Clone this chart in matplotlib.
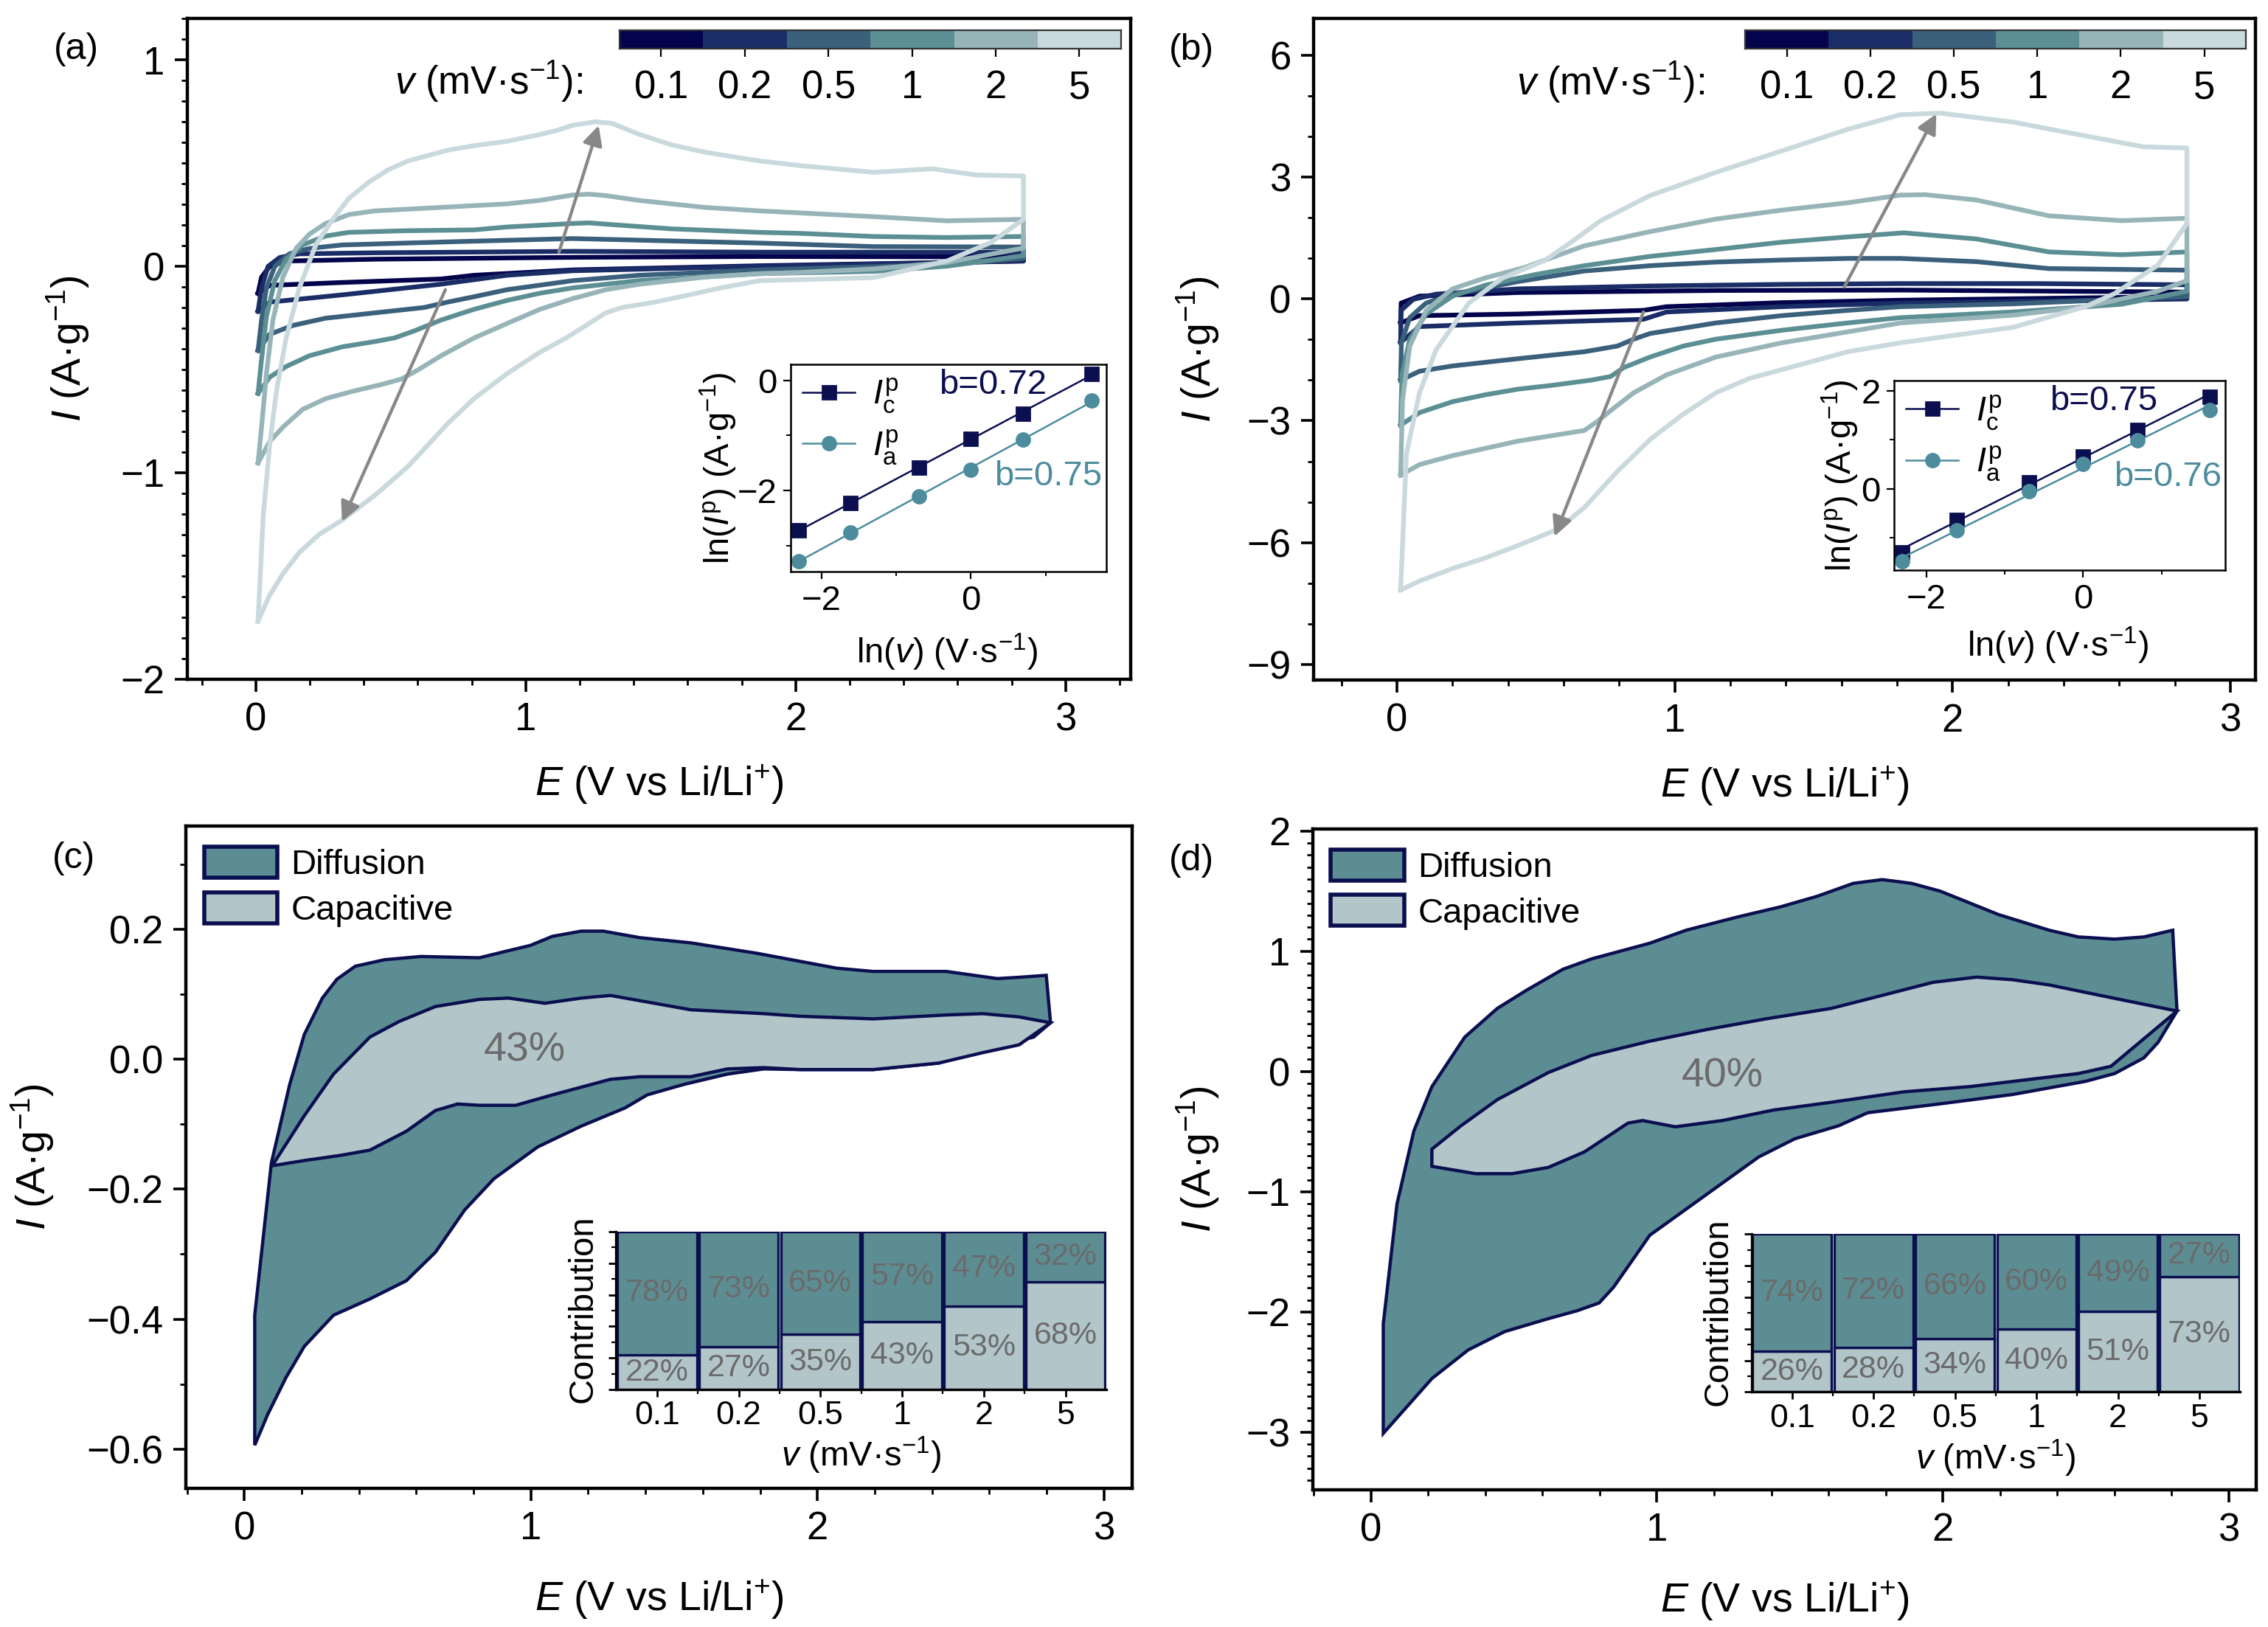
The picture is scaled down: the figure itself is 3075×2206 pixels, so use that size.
import numpy as np
import matplotlib
matplotlib.use('Agg')
import matplotlib.pyplot as plt
from matplotlib.lines import Line2D
from matplotlib.patches import Patch
from matplotlib.colors import ListedColormap
from matplotlib.ticker import MultipleLocator, NullFormatter

plt.rcParams['font.family'] = ['Liberation Sans', 'DejaVu Sans']
plt.rcParams['mathtext.fontset'] = 'custom'
plt.rcParams['mathtext.rm'] = 'Liberation Sans'
plt.rcParams['mathtext.it'] = 'Liberation Sans:italic'
plt.rcParams['mathtext.bf'] = 'Liberation Sans:bold'

# ---------------- data ----------------
rate_labels = ['0.1', '0.2', '0.5', '1', '2', '5']
rates = [0.1, 0.2, 0.5, 1, 2, 5]
rate_colors = ['#04044c', '#1b2d66', '#3b607c', '#5c8f94', '#97b5b9', '#c9d9dd']

# (a) CV curves, upper branch / lower branch, E in V, I in A/g
a01_E_up = [0.008, 0.021, 0.051, 0.112, 0.441, 1.174, 1.867, 2.844]
a01_I_up = [-0.131, -0.053, -0.001, 0.025, 0.034, 0.043, 0.047, 0.045]
a01_E_lo = [0.008, 0.051, 0.319, 0.686, 0.808, 1.174, 1.867, 2.844]
a01_I_lo = [-0.131, -0.093, -0.079, -0.062, -0.044, -0.018, 0.002, 0.025]

a02_E_up = [0.008, 0.021, 0.045, 0.088, 0.161, 0.441, 1.174, 1.867, 2.844]
a02_I_up = [-0.218, -0.105, -0.001, 0.042, 0.060, 0.065, 0.072, 0.068, 0.068]
a02_E_lo = [0.008, 0.051, 0.319, 0.686, 0.930, 1.174, 1.867, 2.844]
a02_I_lo = [-0.218, -0.174, -0.139, -0.087, -0.044, -0.022, -0.001, 0.025]

a05_E_up = [0.008, 0.021, 0.039, 0.070, 0.124, 0.198, 0.319, 0.686, 1.174, 1.867, 2.290, 2.844]
a05_I_up = [-0.408, -0.261, -0.105, -0.001, 0.060, 0.086, 0.103, 0.117, 0.134, 0.112, 0.095, 0.093]
a05_E_lo = [0.008, 0.051, 0.137, 0.258, 0.441, 0.624, 0.710, 0.808, 0.930, 1.174, 1.418, 1.867, 2.560, 2.844]
a05_I_lo = [-0.408, -0.330, -0.287, -0.252, -0.226, -0.200, -0.174, -0.148, -0.114, -0.070, -0.044, -0.018, 0.008, 0.038]

a1_E_up = [0.008, 0.021, 0.039, 0.070, 0.112, 0.173, 0.258, 0.344, 0.563, 0.808, 0.930, 1.174, 1.235, 1.357,
           1.540, 1.867, 2.020, 2.290, 2.560, 2.844]
a1_I_up = [-0.616, -0.451, -0.244, -0.070, 0.034, 0.103, 0.146, 0.164, 0.172, 0.176, 0.190, 0.207, 0.210, 0.198,
           0.181, 0.164, 0.159, 0.144, 0.139, 0.144]
a1_E_lo = [0.008, 0.051, 0.112, 0.198, 0.319, 0.441, 0.515, 0.588, 0.686, 0.808, 0.930, 1.052, 1.174, 1.418,
           1.867, 2.290, 2.560, 2.844]
a1_I_lo = [-0.616, -0.538, -0.486, -0.434, -0.391, -0.365, -0.347, -0.313, -0.261, -0.209, -0.166, -0.131, -0.105,
           -0.070, -0.036, -0.025, 0.0, 0.051]

a2_E_up = [0.008, 0.021, 0.039, 0.063, 0.100, 0.149, 0.198, 0.258, 0.344, 0.441, 0.686, 0.930, 1.052, 1.174,
           1.235, 1.297, 1.418, 1.662, 1.867, 2.020, 2.290, 2.560, 2.844]
a2_I_up = [-0.953, -0.780, -0.521, -0.261, -0.053, 0.086, 0.155, 0.207, 0.250, 0.268, 0.285, 0.302, 0.319, 0.345,
           0.349, 0.342, 0.319, 0.285, 0.268, 0.258, 0.240, 0.220, 0.227]
a2_E_lo = [0.008, 0.051, 0.100, 0.173, 0.258, 0.356, 0.466, 0.539, 0.600, 0.686, 0.808, 0.930, 1.052, 1.174,
           1.296, 1.418, 1.662, 1.867, 2.020, 2.290, 2.560, 2.844]
a2_I_lo = [-0.953, -0.850, -0.780, -0.694, -0.642, -0.607, -0.573, -0.547, -0.503, -0.434, -0.348, -0.278, -0.209,
           -0.157, -0.114, -0.088, -0.053, -0.036, -0.030, -0.013, 0.018, 0.088]

a5_E_up = [0.008, 0.027, 0.051, 0.076, 0.112, 0.161, 0.222, 0.283, 0.344, 0.417, 0.490, 0.563, 0.637, 0.710,
           0.808, 0.930, 1.027, 1.113, 1.174, 1.259, 1.320, 1.418, 1.540, 1.662, 1.784, 1.867, 2.020, 2.290,
           2.506, 2.668, 2.844]
a5_I_up = [-1.72, -1.213, -0.867, -0.607, -0.348, -0.105, 0.103, 0.224, 0.328, 0.406, 0.467, 0.510, 0.536, 0.562,
           0.584, 0.605, 0.631, 0.657, 0.683, 0.700, 0.692, 0.640, 0.588, 0.553, 0.527, 0.510, 0.487, 0.455,
           0.472, 0.442, 0.437]
a5_E_lo = [0.008, 0.051, 0.100, 0.161, 0.234, 0.319, 0.441, 0.563, 0.637, 0.710, 0.808, 0.930, 1.052, 1.149,
           1.234, 1.296, 1.357, 1.479, 1.601, 1.723, 1.867, 2.020, 2.290, 2.560, 2.722, 2.844]
a5_I_lo = [-1.72, -1.594, -1.491, -1.387, -1.300, -1.231, -1.110, -0.971, -0.867, -0.763, -0.642, -0.521, -0.417,
           -0.348, -0.278, -0.226, -0.200, -0.174, -0.140, -0.105, -0.070, -0.065, -0.055, 0.025, 0.114, 0.227]

# (b) CV curves
b01_E_up = [0.013, 0.015, 0.081, 0.437, 1.148, 1.812, 2.843]
b01_I_up = [-0.59, -0.10, 0.07, 0.16, 0.21, 0.22, 0.17]
b01_E_lo = [0.013, 0.081, 0.437, 0.887, 0.970, 1.385, 1.812, 2.843]
b01_I_lo = [-0.59, -0.41, -0.37, -0.28, -0.19, -0.09, -0.03, 0.06]

b02_E_up = [0.013, 0.015, 0.058, 0.141, 0.437, 0.911, 1.385, 1.812, 2.300, 2.843]
b02_I_up = [-1.07, -0.28, -0.01, 0.12, 0.25, 0.32, 0.36, 0.38, 0.38, 0.35]
b02_E_lo = [0.013, 0.081, 0.437, 0.887, 0.970, 1.385, 1.812, 2.843]
b02_I_lo = [-1.07, -0.68, -0.59, -0.50, -0.32, -0.19, -0.10, 0.0]

b05_E_up = [0.013, 0.016, 0.046, 0.105, 0.200, 0.437, 0.674, 0.911, 1.148, 1.385, 1.622, 1.812, 2.085, 2.346, 2.843]
b05_I_up = [-2.00, -1.07, -0.46, -0.10, 0.12, 0.43, 0.69, 0.82, 0.91, 0.96, 1.00, 1.00, 0.92, 0.75, 0.71]
b05_E_lo = [0.013, 0.081, 0.200, 0.437, 0.674, 0.793, 0.852, 0.911, 1.148, 1.385, 1.622, 1.812, 2.216, 2.843]
b05_I_lo = [-2.00, -1.78, -1.65, -1.47, -1.30, -1.16, -0.99, -0.85, -0.59, -0.41, -0.28, -0.19, -0.12, 0.06]

b1_E_up = [0.013, 0.018, 0.046, 0.105, 0.200, 0.318, 0.496, 0.674, 0.911, 1.148, 1.385, 1.622, 1.824, 2.085, 2.346, 2.608, 2.843]
b1_I_up = [-3.11, -1.87, -0.99, -0.37, 0.07, 0.34, 0.60, 0.82, 1.05, 1.22, 1.40, 1.53, 1.63, 1.48, 1.16, 1.09, 1.16]
b1_E_lo = [0.013, 0.081, 0.200, 0.318, 0.437, 0.555, 0.698, 0.769, 0.816, 0.911, 1.030, 1.148, 1.385, 1.622, 1.812, 2.216, 2.608, 2.843]
b1_I_lo = [-3.11, -2.80, -2.53, -2.36, -2.22, -2.13, -2.00, -1.91, -1.69, -1.43, -1.16, -0.99, -0.77, -0.59, -0.46, -0.32, -0.13, 0.19]

b2_E_up = [0.013, 0.020, 0.046, 0.105, 0.200, 0.318, 0.461, 0.674, 0.911, 1.148, 1.385, 1.622, 1.812, 1.902, 2.085, 2.346, 2.608, 2.843]
b2_I_up = [-4.34, -2.49, -1.16, -0.28, 0.25, 0.52, 0.78, 1.31, 1.66, 1.97, 2.19, 2.37, 2.56, 2.57, 2.44, 2.05, 1.93, 1.99]
b2_E_lo = [0.013, 0.081, 0.200, 0.318, 0.437, 0.555, 0.674, 0.721, 0.769, 0.852, 0.970, 1.148, 1.385, 1.622, 1.812, 2.216, 2.477, 2.738, 2.843]
b2_I_lo = [-4.34, -4.08, -3.86, -3.68, -3.50, -3.37, -3.24, -3.02, -2.75, -2.31, -1.87, -1.43, -1.08, -0.81, -0.59, -0.40, -0.19, 0.19, 0.45]

b5_E_up = [0.013, 0.034, 0.081, 0.141, 0.259, 0.378, 0.532, 0.627, 0.733, 0.911, 1.148, 1.385, 1.622, 1.812, 1.955, 2.216, 2.477, 2.686, 2.843]
b5_I_up = [-7.17, -3.81, -2.31, -1.25, -0.10, 0.51, 0.95, 1.40, 1.93, 2.55, 3.12, 3.65, 4.18, 4.54, 4.58, 4.36, 4.02, 3.75, 3.72]
b5_E_lo = [0.013, 0.081, 0.200, 0.318, 0.437, 0.579, 0.674, 0.793, 0.911, 1.030, 1.148, 1.267, 1.385, 1.504, 1.622, 1.812, 2.000, 2.216, 2.477, 2.582, 2.738, 2.843]
b5_I_lo = [-7.17, -6.95, -6.64, -6.38, -6.07, -5.67, -5.14, -4.25, -3.46, -2.84, -2.31, -1.96, -1.74, -1.52, -1.30, -1.08, -0.90, -0.70, -0.19, 0.13, 0.83, 1.86]

a_curves = [(a01_E_up, a01_I_up, a01_E_lo, a01_I_lo), (a02_E_up, a02_I_up, a02_E_lo, a02_I_lo),
            (a05_E_up, a05_I_up, a05_E_lo, a05_I_lo), (a1_E_up, a1_I_up, a1_E_lo, a1_I_lo),
            (a2_E_up, a2_I_up, a2_E_lo, a2_I_lo), (a5_E_up, a5_I_up, a5_E_lo, a5_I_lo)]
b_curves = [(b01_E_up, b01_I_up, b01_E_lo, b01_I_lo), (b02_E_up, b02_I_up, b02_E_lo, b02_I_lo),
            (b05_E_up, b05_I_up, b05_E_lo, b05_I_lo), (b1_E_up, b1_I_up, b1_E_lo, b1_I_lo),
            (b2_E_up, b2_I_up, b2_E_lo, b2_I_lo), (b5_E_up, b5_I_up, b5_E_lo, b5_I_lo)]

# peak current insets, ln(I_p) vs ln(v)
a_lnIc = [-2.72, -2.22, -1.59, -1.06, -0.61, 0.12]
a_lnIa = [-3.28, -2.76, -2.10, -1.62, -1.08, -0.37]
b_lnIc = [-1.30, -0.64, 0.13, 0.66, 1.20, 1.87]
b_lnIa = [-1.49, -0.85, -0.05, 0.50, 0.99, 1.61]

# (c) total CV (outline) and capacitive part, 1 mV/s
c_tot_E = [0.036, 0.036, 0.094, 0.158, 0.209, 0.272, 0.323, 0.387, 0.489, 0.616, 0.820, 0.922, 0.998, 1.075,
           1.176, 1.253, 1.380, 1.558, 1.788, 2.068, 2.195, 2.450, 2.628, 2.704, 2.799, 2.814,
           2.755, 2.577, 2.424, 2.195, 1.940, 1.813, 1.686, 1.533, 1.406, 1.329, 1.176, 1.024, 0.871,
           0.769, 0.667, 0.565, 0.438, 0.311, 0.209, 0.145, 0.081]
c_tot_I = [-0.594, -0.394, -0.160, -0.039, 0.038, 0.094, 0.123, 0.143, 0.153, 0.158, 0.156, 0.167, 0.175, 0.189,
           0.197, 0.197, 0.187, 0.179, 0.163, 0.140, 0.135, 0.135, 0.124, 0.126, 0.129, 0.056,
           0.034, 0.014, -0.006, -0.016, -0.016, -0.015, -0.023, -0.039, -0.055, -0.075, -0.103, -0.135, -0.184,
           -0.232, -0.297, -0.341, -0.369, -0.394, -0.442, -0.490, -0.547]
c_cap_E = [0.097, 0.209, 0.311, 0.438, 0.540, 0.667, 0.820, 0.922, 1.049, 1.176, 1.278, 1.431, 1.558, 1.813,
           1.940, 2.195, 2.450, 2.577, 2.704, 2.814,
           2.704, 2.577, 2.424, 2.195, 1.940, 1.813, 1.686, 1.558, 1.380, 1.278, 1.075, 0.947, 0.820,
           0.744, 0.667, 0.565, 0.438, 0.336, 0.209]
c_cap_I = [-0.164, -0.087, -0.023, 0.034, 0.058, 0.081, 0.092, 0.094, 0.086, 0.094, 0.098, 0.086, 0.076, 0.070,
           0.066, 0.062, 0.068, 0.070, 0.065, 0.056,
           0.022, 0.010, -0.006, -0.016, -0.016, -0.013, -0.015, -0.027, -0.027, -0.031, -0.055, -0.071, -0.071,
           -0.069, -0.079, -0.111, -0.140, -0.148, -0.156]

# (d) total CV and capacitive part, 1 mV/s
d_tot_E = [0.043, 0.043, 0.091, 0.150, 0.213, 0.328, 0.442, 0.544, 0.671, 0.772, 0.975, 1.102, 1.280, 1.433,
           1.560, 1.687, 1.788, 1.890, 1.991, 2.195, 2.372, 2.474, 2.601, 2.703, 2.804, 2.819,
           2.753, 2.703, 2.601, 2.499, 2.245, 1.991, 1.737, 1.636, 1.483, 1.356, 1.229, 1.077, 0.975,
           0.899, 0.848, 0.798, 0.721, 0.620, 0.467, 0.340, 0.213]
d_tot_I = [-3.010, -2.099, -1.101, -0.494, -0.126, 0.286, 0.525, 0.676, 0.850, 0.937, 1.067, 1.175, 1.284, 1.370,
           1.457, 1.565, 1.596, 1.565, 1.500, 1.305, 1.175, 1.119, 1.101, 1.119, 1.175, 0.503,
           0.243, 0.113, -0.017, -0.082, -0.191, -0.269, -0.343, -0.451, -0.559, -0.711, -0.928, -1.188, -1.362,
           -1.622, -1.795, -1.925, -1.990, -2.056, -2.164, -2.316, -2.554]
d_cap_E = [0.213, 0.315, 0.442, 0.620, 0.772, 0.975, 1.179, 1.382, 1.610, 1.788, 1.966, 2.118, 2.245, 2.372,
           2.550, 2.819,
           2.588, 2.474, 2.093, 1.864, 1.610, 1.407, 1.229, 1.064, 0.950, 0.899, 0.747, 0.620, 0.493,
           0.366, 0.213]
d_cap_I = [-0.646, -0.451, -0.234, -0.009, 0.134, 0.252, 0.351, 0.438, 0.525, 0.633, 0.742, 0.785, 0.763, 0.720,
           0.633, 0.503,
           0.043, -0.017, -0.126, -0.169, -0.256, -0.321, -0.408, -0.460, -0.408, -0.429, -0.668, -0.798, -0.850,
           -0.850, -0.789]

# contribution bars
c_capacitive = [22, 27, 35, 43, 53, 68]
c_diffusion = [78, 73, 65, 57, 47, 32]
d_capacitive = [26, 28, 34, 40, 51, 73]
d_diffusion = [74, 72, 66, 60, 49, 27]

navy = '#0b0f50'
teal = '#4d8c9d'
diff_color = '#5c8d93'
cap_color = '#b2c6c9'
pct_grey = '#6b6b6b'
arrow_grey = '#888888'

# ---------------- figure ----------------
fig = plt.figure(figsize=(15.375, 11.03), dpi=200)

ax_a = fig.add_axes([0.0826, 0.5827, 0.4159, 0.4059])
ax_b = fig.add_axes([0.5792, 0.5820, 0.4153, 0.4066])
ax_c = fig.add_axes([0.0820, 0.0854, 0.4172, 0.4070])
ax_d = fig.add_axes([0.5789, 0.0845, 0.4159, 0.4062])


def style_main(ax, xmin, xmax, ymin, ymax, ymaj, ymin_step):
    ax.set_xlim(xmin, xmax)
    ax.set_ylim(ymin, ymax)
    ax.xaxis.set_major_locator(MultipleLocator(1))
    ax.xaxis.set_minor_locator(MultipleLocator(0.2))
    ax.yaxis.set_major_locator(MultipleLocator(ymaj))
    ax.yaxis.set_minor_locator(MultipleLocator(ymin_step))
    ax.tick_params(which='major', direction='out', length=6, width=1.3, labelsize=19, pad=5,
                   top=False, right=False)
    ax.tick_params(which='minor', direction='out', length=3, width=1.0, top=False, right=False)
    for s in ax.spines.values():
        s.set_linewidth(1.6)
    ax.set_xlabel(r'$E$ (V vs Li/Li$^{+}$)', fontsize=20)
    ax.set_ylabel(r'$I$ (A·g$^{-1}$)', fontsize=20)


def add_rate_bar(ax, text_x):
    cax = ax.inset_axes([0.458, 0.954, 0.532, 0.028])
    cax.imshow(np.arange(len(rates))[None, :], cmap=ListedColormap(rate_colors), aspect='auto',
               extent=(0, len(rates), 0, 1))
    cax.set_xticks(np.arange(len(rates)) + 0.5)
    cax.set_xticklabels(rate_labels)
    cax.set_yticks([])
    cax.tick_params(axis='x', direction='out', length=4, width=0.8, pad=6, labelsize=19)
    for s in cax.spines.values():
        s.set_linewidth(0.8)
        s.set_color('#333333')
    ax.text(text_x, 0.904, r'$v$ (mV·s$^{-1}$):', transform=ax.transAxes, ha='right', va='center',
            fontsize=19)


def draw_cv(ax, curves):
    for (Eu, Iu, El, Il), col in zip(curves, rate_colors):
        E = list(Eu) + list(El)[::-1]
        I = list(Iu) + list(Il)[::-1]
        ax.plot(E, I, color=col, lw=2.3, solid_joinstyle='round')


def arrow(ax, base, tip):
    ax.annotate('', xy=tip, xytext=base,
                arrowprops=dict(arrowstyle='-|>', color=arrow_grey, lw=1.6, mutation_scale=20,
                                shrinkA=0, shrinkB=0))


def peak_inset(rect, lnIc, lnIa, ylim, bc_text, ba_text, bc_pos, ba_pos, ylab_x):
    ins = fig.add_axes(rect)
    lnv = np.log(rates)
    for y, col, mk in ((lnIc, navy, 's'), (lnIa, teal, 'o')):
        k, c0 = np.polyfit(lnv, y, 1)
        ins.plot([lnv[0], lnv[-1]], [k * lnv[0] + c0, k * lnv[-1] + c0], color=col, lw=0.9)
        ins.plot(lnv, y, ls='none', marker=mk, ms=6.5, color=col)
    ins.set_xlim(-2.41, 1.81)
    ins.set_ylim(*ylim)
    ins.xaxis.set_major_locator(MultipleLocator(2))
    ins.xaxis.set_minor_locator(MultipleLocator(1))
    ins.yaxis.set_major_locator(MultipleLocator(2))
    ins.yaxis.set_minor_locator(MultipleLocator(1))
    ins.tick_params(which='major', direction='out', length=3.5, width=0.8, labelsize=17, pad=3,
                    top=False, right=False)
    ins.tick_params(which='minor', direction='out', length=2, width=0.7, top=False, right=False)
    for s in ins.spines.values():
        s.set_linewidth(0.9)
    ins.set_xlabel(r'ln($v$) (V·s$^{-1}$)', fontsize=17)
    ins.set_ylabel(r'ln($I^{\rm p}$) (A·g$^{-1}$)', fontsize=17)
    ins.xaxis.set_label_coords(0.495, -0.29)
    ins.yaxis.set_label_coords(ylab_x, 0.5)
    handles = [Line2D([0], [0], color=navy, marker='s', lw=0.9, ms=6.5),
               Line2D([0], [0], color=teal, marker='o', lw=0.9, ms=6.5)]
    ins.legend(handles, [r'$I_{\rm c}^{\rm p}$', r'$I_{\rm a}^{\rm p}$'], loc='upper left',
               frameon=False, fontsize=17, handlelength=1.5, handletextpad=0.5,
               labelspacing=0.35, borderaxespad=0.15, borderpad=0.2)
    ins.text(bc_pos[0], bc_pos[1], bc_text, color=navy, fontsize=17, ha='left', va='center')
    ins.text(ba_pos[0], ba_pos[1], ba_text, color=teal, fontsize=17, ha='right', va='center')


def contribution_inset(rect, cap, dif):
    ins = fig.add_axes(rect)
    x = np.arange(len(rate_labels))
    capf = np.array(cap) / 100
    diff = np.array(dif) / 100
    ins.bar(x, capf, width=0.97, color=cap_color, edgecolor=navy, lw=1.2)
    ins.bar(x, diff, bottom=capf, width=0.97, color=diff_color, edgecolor=navy, lw=1.2)
    for xi, cf, df, cv, dv in zip(x, capf, diff, cap, dif):
        ins.text(xi, cf / 2, f'{cv}%', ha='center', va='center', color=pct_grey, fontsize=15.5)
        ins.text(xi, cf + df / 2, f'{dv}%', ha='center', va='center', color=pct_grey, fontsize=15.5)
    ins.set_xlim(-0.5, len(x) - 0.5)
    ins.set_ylim(0, 1)
    ins.set_xticks(x)
    ins.set_xticklabels(rate_labels)
    ins.set_xticks(x[:-1] + 0.5, minor=True)
    ins.yaxis.set_major_locator(MultipleLocator(0.2))
    ins.yaxis.set_minor_locator(MultipleLocator(0.1))
    ins.yaxis.set_major_formatter(NullFormatter())
    ins.tick_params(which='major', direction='out', length=3.5, width=1.0, labelsize=16, pad=2)
    ins.tick_params(which='minor', direction='out', length=2, width=0.8)
    ins.spines['top'].set_visible(False)
    ins.spines['right'].set_visible(False)
    for s in ('left', 'bottom'):
        ins.spines[s].set_linewidth(1.2)
    ins.set_ylabel('Contribution', fontsize=17)
    ins.yaxis.set_label_coords(-0.034, 0.51)
    ins.set_xlabel(r'$v$ (mV·s$^{-1}$)', fontsize=17)
    ins.xaxis.set_label_coords(0.5, -0.29)


# (a)
draw_cv(ax_a, a_curves)
style_main(ax_a, -0.254, 3.241, -2.0, 1.2, 1, 0.1)
ax_a.xaxis.set_label_coords(0.5, -0.127)
ax_a.yaxis.set_label_coords(-0.102, 0.5)
arrow(ax_a, (1.123, 0.068), (1.270, 0.682))
arrow(ax_a, (0.702, -0.114), (0.319, -1.237))
add_rate_bar(ax_a, 0.419)
peak_inset([0.3486, 0.6487, 0.1392, 0.1274], a_lnIc, a_lnIa, (-3.47, 0.29),
           'b=0.72', 'b=0.75', (-0.43, -0.09), (1.75, -1.75), -0.164)

# (b)
draw_cv(ax_b, b_curves)
style_main(ax_b, -0.30, 3.09, -9.39, 6.91, 3, 1)
ax_b.xaxis.set_label_coords(0.5, -0.127)
ax_b.yaxis.set_label_coords(-0.098, 0.5)
arrow(ax_b, (1.610, 0.30), (1.941, 4.56))
arrow(ax_b, (0.887, -0.32), (0.567, -5.85))
add_rate_bar(ax_b, 0.415)
peak_inset([0.8351, 0.6494, 0.1460, 0.1165], b_lnIc, b_lnIa, (-1.67, 2.2),
           'b=0.75', 'b=0.76', (-0.43, 1.79), (1.77, 0.23), -0.10)

# (c)
ax_c.fill(c_tot_E, c_tot_I, facecolor=diff_color, edgecolor=navy, lw=1.6)
ax_c.fill(c_cap_E, c_cap_I, facecolor=cap_color, edgecolor=navy, lw=1.6)
ax_c.text(0.978, 0.0137, '43%', ha='center', va='center', fontsize=20, color=pct_grey)
style_main(ax_c, -0.204, 3.099, -0.660, 0.359, 0.2, 0.1)
ax_c.xaxis.set_label_coords(0.5, -0.136)
ax_c.yaxis.set_label_coords(-0.137, 0.5)
contribution_inset([0.2717, 0.1459, 0.2161, 0.0971], c_capacitive, c_diffusion)

# (d)
ax_d.fill(d_tot_E, d_tot_I, facecolor=diff_color, edgecolor=navy, lw=1.6)
ax_d.fill(d_cap_E, d_cap_I, facecolor=cap_color, edgecolor=navy, lw=1.6)
ax_d.text(1.229, -0.039, '40%', ha='center', va='center', fontsize=20, color=pct_grey)
style_main(ax_d, -0.203, 3.096, -3.477, 2.02, 1, 0.1)
ax_d.xaxis.set_label_coords(0.5, -0.136)
ax_d.yaxis.set_label_coords(-0.097, 0.5)
contribution_inset([0.7722, 0.1444, 0.2155, 0.0971], d_capacitive, d_diffusion)

for ax in (ax_c, ax_d):
    handles = [Patch(facecolor=diff_color, edgecolor=navy, lw=2),
               Patch(facecolor=cap_color, edgecolor=navy, lw=2)]
    ax.legend(handles, ['Diffusion', 'Capacitive'], loc='upper left', bbox_to_anchor=(0.019, 0.9685),
              frameon=False, fontsize=17, handlelength=2.1, handleheight=1.0, handletextpad=0.4,
              labelspacing=0.3, borderpad=0, borderaxespad=0)

fig.text(0.0237, 0.9696, '(a)', fontsize=18, va='center', ha='left')
fig.text(0.5155, 0.9694, '(b)', fontsize=18, va='center', ha='left')
fig.text(0.0231, 0.4723, '(c)', fontsize=18, va='center', ha='left')
fig.text(0.5154, 0.4708, '(d)', fontsize=18, va='center', ha='left')

fig.savefig('out.png', dpi=200)
